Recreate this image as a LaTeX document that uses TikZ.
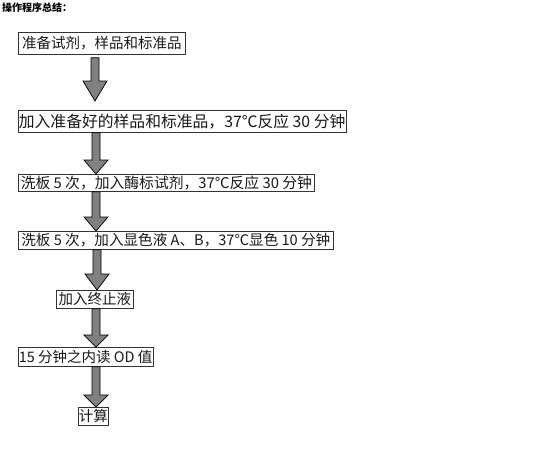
\documentclass[tikz,border=0pt]{standalone}
\usepackage{fontspec}
\newfontfamily\cjk{Noto Sans CJK SC}
\usetikzlibrary{calc}
\tikzset{
  box/.style={draw=black!80, line width=0.7pt, inner sep=0.5pt, anchor=north west,
    font=\cjk\fontsize{14.5}{16}\selectfont, text=black!90},
  fs/.style={font=\cjk\fontsize{#1}{16}\selectfont},
  blockarr/.style={draw=black, line width=0.7pt, fill=black!50, line join=miter}
}
\newcommand\blockarrow[5]{% from, to, x center, start gap, head length
  \path[blockarr] let \p1=(#1.south), \p2=(#2.north) in
    (#3-4, \y1-#4) -- (#3+4, \y1-#4) -- (#3+4, \y2+#5) -- (#3+12, \y2+#5)
    -- (#3, \y2) -- (#3-12, \y2+#5) -- (#3-4, \y2+#5) -- cycle;
}
\begin{document}
\begin{tikzpicture}[x=1pt,y=-1pt]
\useasboundingbox[fill=white] (0,0) rectangle (546,448);
\node[anchor=north west, inner sep=0pt, font=\cjk\bfseries\fontsize{10}{11}\selectfont] (title) at (2,3) {操作程序总结：};
\node[box, minimum width=167, minimum height=22] (b1) at (18,32) {准备试剂，样品和标准品};
\node[box, fs=15.8, minimum width=312, minimum height=22] (b2) at (18,110) {加入准备好的样品和标准品，37℃反应 30 分钟};
\node[box, fs=14.8, minimum width=296, minimum height=17] (b3) at (18,174) {洗板 5 次，加入酶标试剂，37℃反应 30 分钟};
\node[box, fs=14.6, minimum width=315, minimum height=18] (b4) at (18,231) {洗板 5 次，加入显色液 A、B，37℃显色 10 分钟};
\node[box, minimum width=77, minimum height=18] (b5) at (56,290) {加入终止液};
\node[box, minimum width=134, minimum height=19] (b6) at (18,347) {15 分钟之内读 OD 值};
\node[box, minimum width=30, minimum height=18] (b7) at (78,407) {计算};
\coordinate (a1end) at (95,101);
\path[blockarr] let \p1=(b1.south), \p2=(a1end) in
    (91, \y1-3) -- (99, \y1-3) -- (99, \y2+20) -- (107, \y2+20)
    -- (95, \y2) -- (83, \y2+20) -- (91, \y2+20) -- cycle;
\blockarrow{b2}{b3}{96}{0}{14}
\blockarrow{b3}{b4}{96}{0}{14}
\blockarrow{b4}{b5}{97}{0}{16}
\blockarrow{b5}{b6}{96}{0}{12}
\blockarrow{b6}{b7}{96}{0}{12}
\end{tikzpicture}
\end{document}
